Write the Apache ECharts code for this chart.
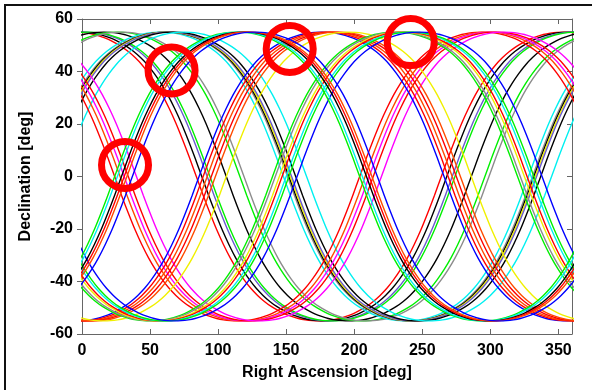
<!DOCTYPE html>
<html>
<head>
<meta charset="utf-8">
<script src="https://cdn.jsdelivr.net/npm/echarts@6/dist/echarts.min.js"></script>
<style>
  html, body { margin: 0; padding: 0; background: #fff; }
  #wrap { position: relative; width: 592px; height: 390px; }
  #frame {
    position: absolute; left: 4px; top: 4px; width: 592px; height: 384px;
    border-top: 2px solid #111; border-left: 2px solid #111; border-bottom: 1px solid #ccc;
  }
  #chart { position: absolute; left: 0; top: 0; width: 592px; height: 390px; }
</style>
</head>
<body>
<div id="wrap">
  <div id="frame"></div>
  <div id="chart"></div>
</div>
<script>
// right ascension offset from the ascending node [deg]
const raOffset = [
  0, 5, 10, 15, 20, 25, 30, 35, 40, 45, 50, 55, 60, 65, 70, 75, 80, 85, 90,
  95, 100, 105, 110, 115, 120, 125, 130, 135, 140, 145, 150, 155, 160, 165, 170, 175, 180,
  185, 190, 195, 200, 205, 210, 215, 220, 225, 230, 235, 240, 245, 250, 255, 260, 265, 270,
  275, 280, 285, 290, 295, 300, 305, 310, 315, 320, 325, 330, 335, 340, 345, 350, 355, 360
];
// declination along one orbit [deg]
const decShape = [
  0, 7.1, 13.9, 20.3, 26.0, 31.1, 35.5, 39.3, 42.6, 45.3, 47.6, 49.5, 51.0, 52.3, 53.3, 54.1, 54.6, 54.9, 55.0,
  54.9, 54.6, 54.1, 53.3, 52.3, 51.0, 49.5, 47.6, 45.3, 42.6, 39.3, 35.5, 31.1, 26.0, 20.3, 13.9, 7.1, 0,
  -7.1, -13.9, -20.3, -26.0, -31.1, -35.5, -39.3, -42.6, -45.3, -47.6, -49.5, -51.0, -52.3, -53.3, -54.1, -54.6, -54.9, -55.0,
  -54.9, -54.6, -54.1, -53.3, -52.3, -51.0, -49.5, -47.6, -45.3, -42.6, -39.3, -35.5, -31.1, -26.0, -20.3, -13.9, -7.1, 0
];

// ascending node RA of each track [deg], grouped by orbit plane
const plane1 = [24, 26, 29, 31, 33, 37];
const plane2 = [328, 331, 332, 333, 334, 337, 345];
const plane3 = [264, 268, 272, 274, 286, 296, 299];
const plane4 = [86, 89, 92, 95, 98, 106];
const plane5 = [140, 142, 145, 147, 150, 152, 158];
const plane6 = [204, 208, 211, 214, 220];

// marked points [RA, Dec]
const marks = [[31.6, 4.4], [65.8, 40.4], [152.6, 48.6], [241.5, 51.2]];

const xTicks = { min: 0, max: 360, step: 50 };
const yTicks = { min: -60, max: 60, step: 20 };

// line colours per plane
const C = {
  red: '#ff0000', orange: '#ff4a00', green: '#00f000', cyan: '#00f0f0', blue: '#0000ff',
  black: '#000000', gray: '#8c8c8c', magenta: '#ff00ff', yellow: '#f0f000', purple: '#6a5acd'
};
const plane1Colors = [C.green, C.cyan, C.black, C.red, C.orange, C.blue];
const plane2Colors = [C.cyan, C.gray, C.black, C.yellow, C.purple, C.black, C.cyan];
const plane3Colors = [C.red, C.black, C.purple, C.green, C.black, C.green, C.gray];
const plane4Colors = [C.blue, C.red, C.orange, C.red, C.orange, C.yellow];
const plane5Colors = [C.green, C.gray, C.yellow, C.red, C.cyan, C.green, C.blue];
const plane6Colors = [C.red, C.orange, C.magenta, C.red, C.magenta];

// one track covers node-360 .. node+360 so the clipped window 0..360 is always filled
function trackData(node) {
  const pts = [];
  [node - 360, node].forEach((start, k) => {
    raOffset.forEach((a, i) => {
      if (k === 1 && i === 0) return;
      pts.push([start + a, decShape[i]]);
    });
  });
  return pts;
}

const series = [];
[
  [plane3, plane3Colors], [plane2, plane2Colors], [plane6, plane6Colors],
  [plane4, plane4Colors], [plane5, plane5Colors], [plane1, plane1Colors]
].forEach(([nodes, colors]) => {
  nodes.forEach((node, i) => {
    series.push({
      type: 'line',
      data: trackData(node),
      smooth: 0.3,
      symbol: 'none',
      clip: true,
      silent: true,
      lineStyle: { color: colors[i], width: 1.4 }
    });
  });
});

series.push({
  type: 'scatter',
  data: marks,
  symbol: 'circle',
  symbolSize: 47,
  clip: false,
  z: 10,
  itemStyle: { color: 'rgba(0,0,0,0)', borderColor: '#ff0000', borderWidth: 7, opacity: 1 }
});

const labelFont = { color: '#000', fontSize: 16, fontWeight: 'bold', fontFamily: 'Liberation Sans, Arial, sans-serif' };
const axisLine = { show: true, onZero: false, lineStyle: { color: '#666', width: 1 } };

const chart = echarts.init(document.getElementById('chart'));
chart.setOption({
  animation: false,
  grid: { left: 82, right: 20, top: 19, bottom: 56 },
  xAxis: [
    {
      type: 'value', min: xTicks.min, max: xTicks.max, interval: xTicks.step,
      name: 'Right Ascension [deg]', nameLocation: 'middle', nameGap: 31,
      nameTextStyle: labelFont,
      axisLine: axisLine,
      axisTick: { inside: true, length: 5, lineStyle: { color: '#666' } },
      axisLabel: Object.assign({ margin: 9, showMaxLabel: false }, labelFont),
      splitLine: { show: false }
    },
    {
      type: 'value', position: 'top', min: xTicks.min, max: xTicks.max, interval: xTicks.step,
      axisLine: axisLine,
      axisTick: { inside: true, length: 5, lineStyle: { color: '#666' } },
      axisLabel: { show: false },
      splitLine: { show: false }
    }
  ],
  yAxis: [
    {
      type: 'value', min: yTicks.min, max: yTicks.max, interval: yTicks.step,
      name: 'Declination [deg]', nameLocation: 'middle', nameGap: 48,
      nameTextStyle: labelFont,
      axisLine: axisLine,
      axisTick: { inside: false, length: 5, lineStyle: { color: '#666' } },
      axisLabel: Object.assign({ margin: 9 }, labelFont),
      splitLine: { show: false }
    },
    {
      type: 'value', position: 'right', min: yTicks.min, max: yTicks.max, interval: yTicks.step,
      axisLine: axisLine,
      axisTick: { inside: true, length: 5, lineStyle: { color: '#666' } },
      axisLabel: { show: false },
      splitLine: { show: false }
    }
  ],
  series: series
});
</script>
</body>
</html>
